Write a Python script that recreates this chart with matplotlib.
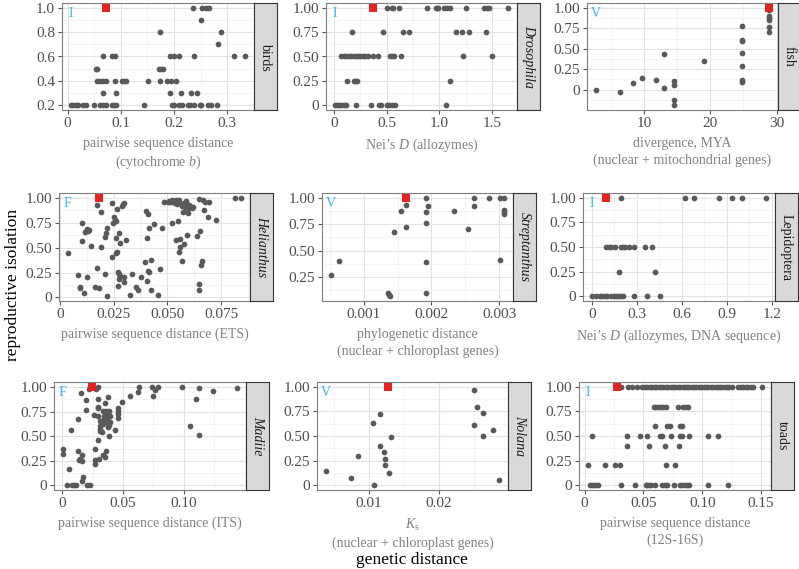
import matplotlib
matplotlib.use('Agg')
import matplotlib.pyplot as plt
from matplotlib.ticker import FixedLocator, AutoMinorLocator

plt.rcParams['font.family'] = 'Liberation Serif'
plt.rcParams['mathtext.fontset'] = 'custom'
plt.rcParams['mathtext.rm'] = 'Liberation Serif'
plt.rcParams['mathtext.it'] = 'Liberation Serif:italic'

# --- data ---
birds_x = [0.235, 0.253, 0.26, 0.265,
           0.25,
           0.173, 0.289,
           0.283,
           0.066, 0.084, 0.089, 0.192, 0.201, 0.21, 0.2375, 0.3125, 0.334,
           0.053, 0.056, 0.171, 0.175, 0.179,
           0.056, 0.061, 0.066, 0.072, 0.09, 0.1025, 0.106, 0.109, 0.151, 0.173, 0.186, 0.195, 0.203,
           0.067, 0.092, 0.193, 0.214, 0.2325, 0.244,
           0.006, 0.011, 0.016, 0.019, 0.029, 0.034, 0.05, 0.061, 0.067, 0.073, 0.083, 0.088, 0.092,
           0.144, 0.197, 0.201, 0.209, 0.215, 0.226, 0.231, 0.237, 0.248, 0.251, 0.264, 0.269, 0.281]
birds_y = [1.0] * 4 + [0.9] + [0.8] * 2 + [0.7] + [0.6] * 9 + [0.5] * 5 + [0.4] * 13 + [0.3] * 6 + [0.2] * 26

dros_x = [0.5, 0.547, 0.563, 0.62, 0.88, 0.965, 0.98, 0.99, 1.05, 1.07, 1.10, 1.25, 1.43, 1.45, 1.475, 1.657,
          0.173, 0.462, 0.657, 0.714, 1.163, 1.217, 1.28, 1.443,
          0.069, 0.091, 0.116, 0.142, 0.164, 0.186, 0.204, 0.226, 0.248, 0.274, 0.296, 0.32, 0.368, 0.415,
          0.535, 0.55, 0.566, 0.635, 1.226, 1.506,
          0.126, 0.189, 0.204, 0.217, 1.10,
          0.006, 0.028, 0.047, 0.069, 0.091, 0.116, 0.21, 0.352, 0.43, 0.447, 0.5, 0.525, 0.55, 0.58, 1.06]
dros_y = [1.0] * 16 + [0.75] * 8 + [0.5] * 20 + [0.25] * 5 + [0.0] * 15

fish_x = [2.75, 6.45, 8.3, 9.7, 11.9, 13.0, 13.0, 14.55, 14.55, 14.55, 14.55, 19.1,
          24.75, 24.75, 24.75, 24.75, 24.75, 24.75, 24.75,
          28.9, 28.9, 28.9, 28.9, 28.9, 28.9]
fish_y = [0.0, -0.03, 0.076, 0.14, 0.12, 0.02, 0.436, 0.108, 0.052, -0.128, -0.19, 0.356,
          0.78, 0.608, 0.592, 0.444, 0.292, 0.112, 0.088,
          0.968, 0.9, 0.872, 0.848, 0.772, 0.708]

heli_x = [0.0035, 0.0085, 0.0093, 0.0094, 0.0102, 0.0103, 0.0113, 0.0116, 0.0123, 0.0127, 0.0131, 0.0136,
          0.0142, 0.0162, 0.0173, 0.0173, 0.018, 0.019, 0.019, 0.021, 0.021, 0.0213, 0.022, 0.022,
          0.024, 0.024, 0.0247, 0.025, 0.0255, 0.0258, 0.026, 0.026, 0.0265, 0.0267, 0.027, 0.0275,
          0.0275, 0.027, 0.0275, 0.028, 0.028, 0.0289, 0.0295, 0.0298, 0.0296, 0.0296, 0.0306,
          0.0327, 0.0336, 0.0355, 0.0363, 0.0375, 0.0394, 0.0401, 0.0409, 0.0404, 0.0404, 0.041,
          0.0414, 0.0414, 0.0424, 0.0424, 0.0435, 0.0454, 0.0463, 0.0474, 0.0483,
          0.0502, 0.0508, 0.0512, 0.052, 0.0525, 0.053, 0.0535, 0.0538, 0.054, 0.0545,
          0.052, 0.054, 0.0551, 0.0555, 0.0563, 0.0568, 0.0575, 0.058, 0.0583, 0.0586, 0.059,
          0.0593, 0.0598, 0.0602, 0.0607, 0.0612, 0.0618,
          0.0552, 0.0557, 0.056, 0.0568, 0.057, 0.0579, 0.0586, 0.059, 0.0596,
          0.0648, 0.0636, 0.0645, 0.0648, 0.065, 0.0657, 0.066, 0.0665, 0.067, 0.0676, 0.0687,
          0.0694, 0.0725, 0.0813, 0.0844]
heli_y = [0.45, 0.22, 0.107, 0.09, 0.747, 0.567, 0.04, 0.657, 0.2, 0.69, 0.667, 0.68,
          0.52, 0.107, 0.3, 0.933, 0.09, 0.857, 0.507, 0.24, 0.607, 0.65, 0.7, 0.013,
          0.403, 0.947, 0.747, 0.807, 0.78, 0.77, 0.6, 0.447, 0.457, 0.89, 0.257, 0.24,
          0.647, 0.113, 0.18, 0.213, 0.547, 0.923, 0.94, 0.947, 0.157, 0.207, 0.58,
          0.02, 0.24, 0.1, 0.073, 0.2, 0.353, 0.867, 0.84, 0.6, 0.167, 0.267,
          0.257, 0.7, 0.38, 0.073, 0.74, 0.02, 0.29, 0.7, 0.96,
          0.96, 0.97, 0.955, 0.98, 0.96, 0.97, 0.95, 0.975, 0.96, 0.94,
          0.747, 0.58, 0.767, 0.98, 0.94, 0.92, 0.95, 0.91, 0.92, 0.967, 0.89,
          0.9, 0.93, 0.9, 0.92, 0.9, 0.91,
          0.457, 0.507, 0.583, 0.367, 0.857, 0.533, 0.9, 0.623, 0.85,
          0.99, 0.613, 0.073, 0.133, 0.667, 0.33, 0.367, 0.983, 0.88, 0.957, 0.807,
          0.957, 0.78, 1.0, 1.0]

strep_x = [0.000515, 0.000632, 0.001358, 0.001378, 0.001388, 0.001447, 0.001554, 0.001623, 0.001623,
           0.001922, 0.001922, 0.001922, 0.001922, 0.001922, 0.001956, 0.002338, 0.00254,
           0.002633, 0.002633, 0.002844, 0.003011, 0.003074, 0.003074, 0.003074, 0.003074, 0.003013]
strep_y = [0.274, 0.40, 0.10, 0.076, 0.07, 0.675, 0.88, 0.93, 0.726,
           1.0, 0.864, 0.763, 0.391, 0.101, 0.921, 0.88, 0.703,
           1.0, 0.921, 1.0, 1.0, 1.0, 0.89, 0.867, 0.849, 0.41]

lep_x = [0.193, 0.622, 0.68, 0.847, 0.931, 0.998, 1.162,
         0.098, 0.113, 0.131, 0.153, 0.193, 0.209, 0.22, 0.247, 0.282, 0.353, 0.398,
         0.182, 0.42,
         0.0, 0.031, 0.058, 0.071, 0.087, 0.102, 0.131, 0.147, 0.16, 0.176, 0.191, 0.209, 0.282, 0.369, 0.453]
lep_y = [1.0] * 7 + [0.5] * 11 + [0.25] * 2 + [0.0] * 15

madi_x = [0.0005, 0.0005, 0.004, 0.006, 0.007, 0.008, 0.01, 0.0115, 0.0128, 0.0128, 0.015, 0.014,
          0.0153, 0.016, 0.0167, 0.016, 0.017, 0.02, 0.02, 0.0205, 0.023, 0.0219, 0.026, 0.0273,
          0.0273, 0.0273, 0.0279, 0.0292, 0.0295, 0.0295, 0.0295, 0.0295, 0.0295, 0.03,
          0.031, 0.0314, 0.0314, 0.0314, 0.032, 0.0328, 0.0336, 0.034, 0.034, 0.0347, 0.0355,
          0.0355, 0.0363, 0.0363, 0.0369, 0.0369, 0.0374, 0.0374, 0.038, 0.0383, 0.0385, 0.0388,
          0.0396, 0.0396, 0.034, 0.035, 0.0363, 0.0437, 0.0456, 0.046, 0.046, 0.046, 0.049,
          0.056, 0.0623, 0.0634, 0.0738, 0.0751, 0.0765, 0.0792, 0.0984, 0.105, 0.11, 0.1123,
          0.1128, 0.1243, 0.144]
madi_y = [0.37, 0.316, 0.007, 0.168, 0.559, 0.007, 0.005, 0.004, 0.673, 0.35, 0.27, 0.263,
          0.943, 0.31, 0.253, 0.05, 0.084, 0.768, 0.869, 0.007, 0.007, 0.976, 0.717, 0.37,
          0.26, 0.219, 0.976, 1.0, 0.882, 0.8, 0.784, 0.7, 0.461, 0.266,
          0.657, 0.606, 0.57, 0.549, 0.64, 0.539, 0.663, 0.623, 0.758, 0.707, 0.657,
          0.832, 0.751, 0.69, 0.724, 0.64, 0.899, 0.589, 0.69, 0.758, 0.502, 0.613,
          0.707, 0.646, 0.31, 0.293, 0.347, 0.566, 0.791, 0.758, 0.724, 0.683, 0.842,
          0.909, 0.946, 0.997, 1.0, 0.909, 0.966, 1.0, 1.0, 0.6, 0.875, 0.508,
          0.987, 0.96, 0.987]

nola_x = [0.0038, 0.0074, 0.0084, 0.0106, 0.0108, 0.0116, 0.0116, 0.0121, 0.0123, 0.0123, 0.0129, 0.0132,
          0.0251, 0.0251, 0.0255, 0.0263, 0.0263, 0.0278, 0.0287]
nola_y = [0.145, 0.071, 0.293, 0.63, 0.0, 0.72, 0.40, 0.34, 0.269, 0.209, 0.125, 0.488,
          0.966, 0.61, 0.80, 0.737, 0.505, 0.559, 0.05]

toad_x = [0.031, 0.0367, 0.0404, 0.0447, 0.049, 0.051, 0.053, 0.0555, 0.057, 0.0595, 0.061, 0.0632,
          0.065, 0.067, 0.069, 0.0712, 0.073, 0.0752, 0.077, 0.079, 0.081, 0.0833, 0.085, 0.087,
          0.089, 0.0915, 0.093, 0.095, 0.097, 0.099, 0.1012, 0.103, 0.105, 0.107, 0.109, 0.1113,
          0.113, 0.115, 0.117, 0.119, 0.121, 0.123, 0.1255, 0.130, 0.1325, 0.135, 0.137, 0.139,
          0.141, 0.143, 0.151,
          0.059, 0.061, 0.063, 0.065, 0.067, 0.069, 0.079, 0.084, 0.086, 0.088,
          0.06, 0.070, 0.0726, 0.081, 0.083,
          0.0063, 0.036, 0.047, 0.053, 0.064, 0.066, 0.073, 0.081, 0.083, 0.089, 0.1045, 0.1136,
          0.036, 0.055, 0.0686, 0.0806,
          0.0026, 0.0174, 0.026, 0.030, 0.069, 0.0766,
          0.0043, 0.0063, 0.0083, 0.01, 0.0117, 0.031, 0.043, 0.052, 0.053, 0.055, 0.056, 0.06,
          0.066, 0.068, 0.070, 0.076, 0.081, 0.083, 0.085, 0.087, 0.089, 0.105, 0.122]
toad_y = [1.0] * 51 + [0.8] * 10 + [0.6] * 5 + [0.5] * 12 + [0.4] * 4 + [0.2] * 6 + [0.0] * 23

# red square (reference pair) per panel
red_x = [0.072, 0.374, 28.85, 0.018, 0.001623, 0.098, 0.0249, 0.0127, 0.0276]
red_y = [1.0, 1.0, 1.0, 1.0, 1.0, 1.0, 1.0, 1.0, 1.0]

strip_names = ['birds', 'Drosophila', 'fish', 'Helianthus', 'Streptanthus', 'Lepidoptera',
               'Madiie', 'Nolana', 'toads']
strip_italic = [False, True, False, True, True, False, True, True, False]
letters = ['I', 'I', 'V', 'F', 'V', 'I', 'F', 'V', 'I']
x_labels = ['pairwise sequence distance\n(cytochrome $b$)',
            'Nei\u2019s $D$ (allozymes)',
            'divergence, MYA\n(nuclear + mitochondrial genes)',
            'pairwise sequence distance (ETS)',
            'phylogenetic distance\n(nuclear + chloroplast genes)',
            'Nei\u2019s $D$ (allozymes, DNA sequence)',
            'pairwise sequence distance (ITS)',
            '$K_\\mathrm{s}$\n(nuclear + chloroplast genes)',
            'pairwise sequence distance\n(12S-16S)']
x_ticks = [[0, 0.1, 0.2, 0.3], [0, 0.5, 1.0, 1.5], [10, 20, 30], [0, 0.025, 0.05, 0.075],
           [0.001, 0.002, 0.003], [0, 0.3, 0.6, 0.9, 1.2], [0, 0.05, 0.10], [0.01, 0.02],
           [0, 0.05, 0.10, 0.15]]
x_ticklabels = [['0', '0.1', '0.2', '0.3'], ['0', '0.5', '1.0', '1.5'], ['10', '20', '30'],
                ['0', '0.025', '0.050', '0.075'], ['0.001', '0.002', '0.003'],
                ['0', '0.3', '0.6', '0.9', '1.2'], ['0', '0.05', '0.10'], ['0.01', '0.02'],
                ['0', '0.05', '0.10', '0.15']]
y_std = [0, 0.25, 0.5, 0.75, 1.0]
y_std_labels = ['0', '0.25', '0.50', '0.75', '1.00']
y_ticks = [[0.2, 0.4, 0.6, 0.8, 1.0], y_std, y_std, y_std, [0.25, 0.5, 0.75, 1.0], y_std, y_std, y_std, y_std]
y_ticklabels = [['0.2', '0.4', '0.6', '0.8', '1.0'], y_std_labels, y_std_labels, y_std_labels,
                ['0.25', '0.50', '0.75', '1.00'], y_std_labels, y_std_labels, y_std_labels, y_std_labels]

all_x = [birds_x, dros_x, fish_x, heli_x, strep_x, lep_x, madi_x, nola_x, toad_x]
all_y = [birds_y, dros_y, fish_y, heli_y, strep_y, lep_y, madi_y, nola_y, toad_y]

# panel boxes in pixels: left, top, right, bottom
boxes = [(62, 3, 254, 110), (326, 3, 517, 110), (587, 3, 778, 110),
         (59, 193, 250, 301), (322, 193, 513, 301), (583, 193, 775, 301),
         (54, 382, 246, 490), (317, 382, 508, 490), (579, 382, 771, 490)]

W, H = 799, 569
fig = plt.figure(figsize=(W / 100, H / 100), dpi=100, facecolor='white')

POINT = '#595959'
RED = '#E8231F'
BLUE = '#3DB5F0'
STRIP_W = 23

for i in range(9):
    l, t, r, b = boxes[i]
    ax = fig.add_axes([l / W, 1 - b / H, (r - l) / W, (b - t) / H])
    xs = all_x[i] + [red_x[i]]
    ys = all_y[i] + [red_y[i]]
    # ggplot style 5% expansion
    xpad = (max(xs) - min(xs)) * 0.05
    ypad = (max(ys) - min(ys)) * 0.05
    ax.set_xlim(min(xs) - xpad, max(xs) + xpad)
    ax.set_ylim(min(ys) - ypad, max(ys) + ypad)

    ax.scatter(all_x[i], all_y[i], s=17, color=POINT, linewidths=0, zorder=3)
    ax.scatter([red_x[i]], [red_y[i]], s=30, marker='s', color=RED, linewidths=0, zorder=4)

    ax.xaxis.set_major_locator(FixedLocator(x_ticks[i]))
    ax.set_xticklabels(x_ticklabels[i])
    ax.yaxis.set_major_locator(FixedLocator(y_ticks[i]))
    ax.set_yticklabels(y_ticklabels[i])
    ax.xaxis.set_minor_locator(AutoMinorLocator(2))
    ax.yaxis.set_minor_locator(AutoMinorLocator(2))
    ax.grid(which='major', color='#E3E3E3', lw=0.8, zorder=0)
    ax.grid(which='minor', color='#F1F1F1', lw=0.6, zorder=0)
    ax.set_axisbelow(True)
    ax.tick_params(which='major', direction='out', length=3, width=0.8, color='#555555',
                   labelsize=11, labelcolor='#4D4D4D', pad=2)
    ax.tick_params(which='minor', length=0)
    for sp in ax.spines.values():
        sp.set_color('#7F7F7F')
        sp.set_linewidth(0.8)

    ax.set_xlabel(x_labels[i], fontsize=10, color='#808080', labelpad=5, linespacing=1.35)

    ax.text(0.045, 0.9, letters[i], transform=ax.transAxes, color=BLUE, fontsize=10,
            ha='center', va='center')

    # facet strip on the right
    sx = fig.add_axes([r / W, 1 - b / H, STRIP_W / W, (b - t) / H])
    sx.set_facecolor('#D9D9D9')
    sx.set_xticks([])
    sx.set_yticks([])
    for sp in sx.spines.values():
        sp.set_color('#333333')
        sp.set_linewidth(0.8)
    sx.text(0.5, 0.5, strip_names[i], transform=sx.transAxes, rotation=-90,
            ha='center', va='center', fontsize=10, color='#1A1A1A',
            style='italic' if strip_italic[i] else 'normal')

fig.text(0.016, 0.5, 'reproductive isolation', rotation=90, ha='center', va='center',
         fontsize=12.5, color='black')
fig.text(0.516, 0.016, 'genetic distance', ha='center', va='center', fontsize=12.5, color='black')

fig.savefig('out.png', dpi=100)
